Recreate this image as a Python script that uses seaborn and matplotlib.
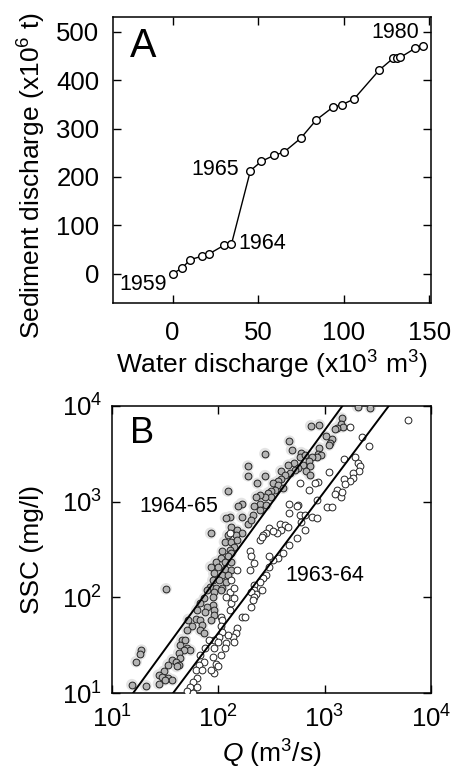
import numpy as np
import pandas as pd
import matplotlib
matplotlib.use("Agg")
import matplotlib.pyplot as plt
import seaborn as sns

# ---- panel A: cumulative curve, 1959-1980 ----
years = list(range(1959, 1981))
water_discharge = [0, 5.4, 10.3, 17.1, 21.4, 30.2, 34.4, 45.5, 51.8, 59.5, 65.0,
                   74.9, 84.0, 93.6, 98.8, 106.0, 120.8, 128.8, 131.3, 133.0, 141.8, 146.5]
sediment_discharge = [0, 11, 29, 36, 41, 59, 61, 213, 232, 245, 251,
                      280, 318, 344, 349, 361, 421, 445, 446, 447, 466, 470]
labelled_years = {1959: (-17, -23), 1964: (52.5, 62), 1965: (25, 216), 1980: (130, 498)}

# ---- panel B: SSC vs Q in log10 units ----
log_q_6465 = [3.31, 3.43, 3.16, 3.15, 3.17, 3.12, 3.10, 2.95, 3.01, 3.07, 3.05, 3.04, 2.95, 2.94, 2.97, 2.93,
              2.87, 2.67, 2.69, 2.44, 2.78, 2.77, 2.82, 2.88, 2.85, 2.80, 2.86, 2.83, 2.86, 2.71, 2.66, 2.75,
              2.72, 2.68, 2.59, 2.63, 2.59, 2.56, 2.52, 2.56, 2.61, 2.53, 2.50, 2.47, 2.50, 2.44, 2.39, 2.36,
              2.28, 2.28, 2.44, 2.37, 2.09, 2.39, 2.45, 2.34, 2.39, 2.33, 2.28, 2.31, 2.22, 2.19, 2.11, 2.07,
              2.22, 1.93, 2.12, 2.18, 2.22, 2.17, 2.09, 2.06, 2.12, 2.18, 2.15, 2.11, 2.04, 2.12, 2.09, 2.03,
              1.98, 2.06, 2.12, 1.93, 2.00, 2.06, 2.12, 1.96, 2.04, 2.09, 1.95, 2.01, 2.07, 1.92, 1.98, 2.04,
              1.90, 1.96, 2.03, 1.51, 1.95, 1.95, 1.96, 1.96, 1.93, 1.87, 1.83, 1.90, 1.80, 1.88, 1.72, 1.79,
              1.83, 1.75, 1.71, 1.85, 1.83, 1.87, 1.66, 1.69, 1.64, 1.71, 1.74, 1.68, 1.63, 1.64, 1.57, 1.60,
              1.63, 1.61, 1.53, 1.28, 1.27, 1.23, 1.49, 1.44, 1.47, 1.53, 1.57, 1.50, 1.44, 1.19, 1.32]
log_ssc_6465 = [3.99, 3.98, 3.87, 3.81, 3.78, 3.77, 3.76, 3.80, 3.68, 3.65, 3.61, 3.59, 3.56, 3.50, 3.49, 3.47,
                3.79, 3.63, 3.54, 3.50, 3.51, 3.47, 3.49, 3.47, 3.42, 3.38, 3.37, 3.32, 3.28, 3.40, 3.38, 3.35,
                3.33, 3.30, 3.32, 3.28, 3.24, 3.21, 3.19, 3.17, 3.14, 3.12, 3.11, 3.09, 3.05, 3.05, 3.07, 3.05,
                3.37, 3.27, 3.27, 3.19, 3.11, 2.98, 2.96, 2.95, 2.91, 2.86, 2.77, 2.81, 2.98, 2.95, 2.84, 2.83,
                2.84, 2.67, 2.74, 2.70, 2.67, 2.65, 2.65, 2.58, 2.58, 2.60, 2.53, 2.50, 2.48, 2.46, 2.43, 2.41,
                2.37, 2.37, 2.37, 2.32, 2.32, 2.30, 2.29, 2.25, 2.23, 2.23, 2.18, 2.18, 2.16, 2.11, 2.10, 2.10,
                2.08, 2.06, 2.08, 2.09, 2.01, 1.92, 1.87, 1.82, 1.77, 1.99, 1.94, 1.90, 1.87, 1.85, 1.77, 1.78,
                1.77, 1.70, 1.66, 1.71, 1.66, 1.63, 1.56, 1.56, 1.50, 1.47, 1.45, 1.45, 1.42, 1.37, 1.35, 1.33,
                1.30, 1.28, 1.30, 1.45, 1.41, 1.33, 1.23, 1.19, 1.17, 1.16, 1.14, 1.14, 1.10, 1.09, 1.08]

log_q_6364 = [3.24, 3.78, 3.35, 3.42, 3.18, 3.29, 3.31, 3.33, 3.32, 3.27, 3.27, 3.24, 3.18, 3.19, 3.04, 2.94,
              3.12, 3.10, 3.15, 3.16, 2.77, 2.85, 2.91, 2.67, 2.75, 2.74, 2.67, 2.77, 2.82, 2.88, 2.93, 3.02,
              3.07, 2.93, 2.58, 2.63, 2.66, 2.59, 2.55, 2.48, 2.45, 2.52, 2.42, 2.39, 2.41, 2.82, 2.78, 2.74,
              2.67, 2.61, 2.56, 2.52, 2.48, 2.30, 2.31, 2.34, 2.30, 2.48, 2.45, 2.42, 2.39, 2.34, 2.34, 2.41,
              2.36, 2.31, 2.11, 2.18, 2.12, 2.11, 2.15, 2.34, 2.33, 2.31, 2.11, 2.22, 2.25, 2.03, 2.04, 2.03,
              2.18, 2.17, 2.14, 2.15, 2.09, 2.04, 2.01, 1.96, 2.00, 2.07, 1.96, 2.06, 2.03, 1.95, 1.98, 2.00,
              1.96, 1.93, 1.91, 1.88, 1.83, 1.87, 1.82, 1.79, 1.85, 1.80, 1.76, 1.74, 1.80, 1.71, 1.76, 2.07,
              2.12, 2.15]
log_ssc_6364 = [3.78, 3.85, 3.67, 3.58, 3.44, 3.47, 3.40, 3.37, 3.32, 3.30, 3.25, 3.21, 3.24, 3.18, 3.31, 3.20,
                3.12, 3.08, 3.05, 3.10, 3.19, 3.12, 3.19, 2.98, 2.96, 2.95, 2.88, 2.86, 2.86, 2.84, 2.83, 2.94,
                2.94, 3.02, 2.77, 2.76, 2.74, 2.70, 2.67, 2.72, 2.67, 2.69, 2.65, 2.60, 2.63, 2.70, 2.79, 2.62,
                2.55, 2.46, 2.41, 2.39, 2.43, 2.48, 2.43, 2.36, 2.29, 2.32, 2.23, 2.20, 2.16, 2.13, 2.08, 2.08,
                2.04, 2.06, 2.67, 2.29, 2.18, 2.06, 2.10, 2.01, 1.97, 1.90, 1.87, 1.80, 1.80, 1.80, 1.77, 1.70,
                1.68, 1.63, 1.59, 1.54, 1.61, 1.64, 1.59, 1.56, 1.54, 1.52, 1.47, 1.47, 1.40, 1.38, 1.31, 1.28,
                1.21, 1.24, 1.56, 1.47, 1.40, 1.33, 1.30, 1.24, 1.24, 1.16, 1.12, 1.07, 1.07, 1.02, 1.00, 2.01,
                1.94, 1.99]

# power-law fits SSC = a * Q**b
fit_6465 = (0.149, 1.523)
fit_6364 = (0.047, 1.478)

sns.set_style("ticks", {"axes.edgecolor": "black", "xtick.color": "black", "ytick.color": "black",
                        "text.color": "black", "axes.labelcolor": "black"})
plt.rcParams["font.family"] = ["Liberation Sans", "DejaVu Sans"]
plt.rcParams["mathtext.fontset"] = "custom"
plt.rcParams["mathtext.rm"] = "Liberation Sans"
plt.rcParams["mathtext.it"] = "Liberation Sans:italic"
plt.rcParams["mathtext.default"] = "regular"

TICK_FS = 18.5
LABEL_FS = 19

fig = plt.figure(figsize=(4.54, 7.69), dpi=100)
ax_a = fig.add_axes([0.2482, 0.6064, 0.7011, 0.3711])
ax_b = fig.add_axes([0.2460, 0.0984, 0.7033, 0.3740])

# panel A
df_a = pd.DataFrame({"water": water_discharge, "sediment": sediment_discharge, "year": years})
sns.lineplot(data=df_a, x="water", y="sediment", sort=False, ax=ax_a, color="black", lw=1,
             marker="o", markersize=5.5, markerfacecolor="white", markeredgecolor="black",
             markeredgewidth=1)
for yr, (tx, ty) in labelled_years.items():
    ax_a.text(tx, ty, str(yr), fontsize=15.5, ha="center", va="center")
ax_a.text(-17.5, 470, "A", fontsize=28.5, ha="center", va="center")
ax_a.set_xlim(-35, 151)
ax_a.set_ylim(-60, 530)
ax_a.set_xticks([0, 50, 100, 150])
ax_a.set_yticks([0, 100, 200, 300, 400, 500])
ax_a.set_xlabel("Water discharge (x10$^3$ m$^3$)", fontsize=LABEL_FS)
ax_a.set_ylabel("Sediment discharge (x10$^6$ t)", fontsize=LABEL_FS)
ax_a.xaxis.set_label_coords(0.5, -0.2498)
ax_a.xaxis.label.set_va("baseline")
ax_a.yaxis.set_label_coords(-0.253, 0.446)
ax_a.yaxis.label.set_va("center")
ax_a.tick_params(direction="in", top=True, right=True, length=6, width=1, labelsize=TICK_FS)
ax_a.tick_params(axis="x", pad=13.5)
ax_a.tick_params(axis="y", pad=9.5)

# panel B
ax_b.set_xscale("log")
ax_b.set_yscale("log")
df_6465 = pd.DataFrame({"Q": np.power(10.0, log_q_6465), "SSC": np.power(10.0, log_ssc_6465)})
df_6364 = pd.DataFrame({"Q": np.power(10.0, log_q_6364), "SSC": np.power(10.0, log_ssc_6364)})
# faint halo under the grey dots, as in the printed figure
sns.scatterplot(data=df_6465, x="Q", y="SSC", ax=ax_b, s=70, color="#e4e4e4",
                edgecolor="none", linewidth=0, zorder=2)
sns.scatterplot(data=df_6465, x="Q", y="SSC", ax=ax_b, s=24, color="#b4b4b4",
                edgecolor="#222222", linewidth=0.7, zorder=3)
sns.scatterplot(data=df_6364, x="Q", y="SSC", ax=ax_b, s=24, color="white",
                edgecolor="#222222", linewidth=0.7, zorder=3)
q_line = np.array([10.0, 1e4])
for a, b in (fit_6465, fit_6364):
    sns.lineplot(x=q_line, y=a * q_line ** b, ax=ax_b, color="black", lw=1.4, zorder=4)
ax_b.text(19.2, 5100, "B", fontsize=26, ha="center", va="center")
ax_b.text(43, 890, "1964-65", fontsize=15.5, ha="center", va="center")
ax_b.text(1000, 171, "1963-64", fontsize=15.5, ha="center", va="center")
ax_b.set_xlim(10, 1e4)
ax_b.set_ylim(10, 1e4)
ax_b.minorticks_off()
ax_b.set_xlabel(r"$\mathit{Q}$ (m$^3$/s)", fontsize=LABEL_FS)
ax_b.set_ylabel("SSC (mg/l)", fontsize=LABEL_FS)
ax_b.xaxis.set_label_coords(0.5, -0.2406)
ax_b.xaxis.label.set_va("baseline")
ax_b.yaxis.set_label_coords(-0.249, 0.5)
ax_b.yaxis.label.set_va("center")
ax_b.tick_params(direction="in", top=True, right=True, length=6, width=1, labelsize=TICK_FS)
ax_b.tick_params(axis="x", pad=9)
ax_b.tick_params(axis="y", pad=7)

for ax in (ax_a, ax_b):
    for sp in ax.spines.values():
        sp.set_linewidth(1.1)

fig.savefig("out.png", dpi=100)
